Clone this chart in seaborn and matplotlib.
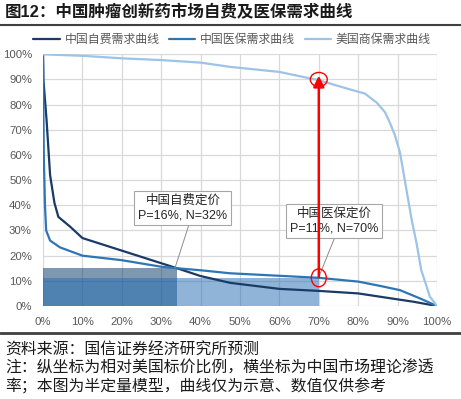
import numpy as np
import pandas as pd
import seaborn as sns
import matplotlib.pyplot as plt
from matplotlib.patches import Ellipse
from matplotlib.lines import Line2D

# demand curves: x = China market penetration (%), y = price relative to US list price (%)
self_pay_x = [0, 0.1, 0.9, 1.8, 2.4, 2.9, 3.9, 6.9, 10, 20, 30, 34, 40, 47.5, 60, 70, 80, 85.5, 94, 100]
self_pay_y = [100, 90, 74, 52, 46, 41, 35.4, 31.5, 27, 22, 17, 15, 11.9, 9.2, 6.8, 6, 5, 3.7, 1.7, 0]

insur_x = [0, 0.2, 0.5, 0.8, 1.8, 4.3, 10, 20, 30, 34, 40, 47.5, 60, 70, 80, 85.5, 90.6, 95.7, 100]
insur_y = [100, 60, 40, 30, 26, 23.3, 20, 18.2, 15.6, 15, 14.2, 13, 12, 11.2, 9.7, 8, 6.3, 3, 0]

us_x = [0, 10, 20, 30, 40, 47.5, 60, 70, 78, 81.7, 84.7, 86.8, 88, 89.3, 90.6, 91.6, 93.6, 94.8, 96, 98.2, 100]
us_y = [100, 99.4, 98.4, 97.7, 96.7, 95, 93, 89.7, 86, 84.4, 80.8, 77, 73, 67.9, 61, 52, 34, 25, 14.3, 3.7, 0]

series_names = ["中国自费需求曲线", "中国医保需求曲线", "美国商保需求曲线"]
series_colors = ["#1b3a66", "#2e75b6", "#9dc3e6"]

# pricing points (N = penetration width, P = price height)
price_names = ["中国自费定价", "中国医保定价"]
price_N = [34, 70]
price_P = [15, 11]
price_labels = ["P=16%, N=32%", "P=11%, N=70%"]

df = pd.concat([
    pd.DataFrame({"x": self_pay_x, "y": self_pay_y, "series": series_names[0]}),
    pd.DataFrame({"x": insur_x, "y": insur_y, "series": series_names[1]}),
    pd.DataFrame({"x": us_x, "y": us_y, "series": series_names[2]}),
])

sns.set_style("white")
plt.rcParams["font.family"] = ["Liberation Sans", "Noto Sans CJK SC"]

fig = plt.figure(figsize=(4.61, 3.99), dpi=100)
ax = fig.add_axes([43 / 461, 93 / 399, 394 / 461, 251.7 / 399])

# pricing rectangles
ax.bar(0, price_P[0], width=price_N[0], align="edge", color="#003366", alpha=0.5, zorder=1, linewidth=0)
ax.bar(0, price_P[1], width=price_N[1], align="edge", color="#216bb1", alpha=0.5, zorder=1, linewidth=0)

sns.lineplot(data=df, x="x", y="y", hue="series", hue_order=series_names,
             palette=series_colors, sort=False, estimator=None, linewidth=1.6, ax=ax, zorder=3)

ax.set_xlim(0, 100)
ax.set_ylim(0, 100)
ticks = np.arange(0, 101, 10)
ax.set_xticks(ticks)
ax.set_yticks(ticks)
ax.set_xticklabels([f"{t}%" for t in ticks])
ax.set_yticklabels([f"{t}%" for t in ticks])
ax.tick_params(axis="both", length=0, labelsize=8.2, labelcolor="#595959")
ax.tick_params(axis="x", pad=8)
ax.tick_params(axis="y", pad=8)
ax.grid(True, color="#d9d9d9", linewidth=0.9, zorder=0)
ax.set_axisbelow(True)
for s in ax.spines.values():
    s.set_visible(False)
ax.set_xlabel("")
ax.set_ylabel("")

handles = [Line2D([], [], color=c, lw=1.6) for c in series_colors]
ax.legend(handles, series_names, loc="center", bbox_to_anchor=(0.48, 1.055), ncol=3,
          frameon=False, fontsize=8.6, handlelength=2.2, handletextpad=0.4,
          columnspacing=0.8, labelcolor="#595959")

# annotations for pricing points
ann_xy = [(33.5, 15.1), (70, 11.5)]
ann_text_xy = [(35.5, 38.9), (73.9, 33.7)]
ann_relpos = [(0.58, 0), (0.52, 0)]
for i in range(2):
    ax.annotate(price_names[i] + "\n" + price_labels[i], xy=ann_xy[i], xytext=ann_text_xy[i],
                ha="center", va="center", fontsize=9, color="#262626", linespacing=1.25,
                bbox=dict(boxstyle="square,pad=0.32", fc="white", ec="#a6a6a6", lw=0.8),
                arrowprops=dict(arrowstyle="-", color="#8c8c8c", lw=0.7, relpos=ann_relpos[i],
                                shrinkA=0, shrinkB=0),
                zorder=5)

# red arrow with circles
ax.annotate("", xy=(70, 91.5), xytext=(70, 11.5),
            arrowprops=dict(arrowstyle="-|>", color="#ff0000", lw=1.8, mutation_scale=16,
                            shrinkA=0, shrinkB=0), zorder=6)
ax.add_patch(Ellipse((70, 90), 4.3, 5.6, fill=False, ec="#ff0000", lw=1, zorder=6))
ax.add_patch(Ellipse((70, 11.2), 3.8, 7.1, fill=False, ec="#ff0000", lw=1, zorder=6))

# title, rules and footer
fig.text(5 / 461, 1 - 12 / 399, "图12：中国肿瘤创新药市场自费及医保需求曲线", fontsize=11.9,
         fontweight="bold", va="center", ha="left", color="#1a1a1a")
fig.add_artist(Line2D([0, 1], [1 - 25 / 399, 1 - 25 / 399], color="#404040", lw=1.5))
fig.add_artist(Line2D([0, 1], [1 - 333 / 399, 1 - 333 / 399], color="#404040", lw=2))

footer = ["资料来源：国信证券经济研究所预测",
          "注：纵坐标为相对美国标价比例，横坐标为中国市场理论渗透",
          "率；本图为半定量模型，曲线仅为示意、数值仅供参考"]
for i, line in enumerate(footer):
    fig.text(5 / 461, 1 - (350 + 18 * i) / 399, line, fontsize=11.4, va="center",
             ha="left", color="#1a1a1a")

fig.savefig("out.png", dpi=100)
